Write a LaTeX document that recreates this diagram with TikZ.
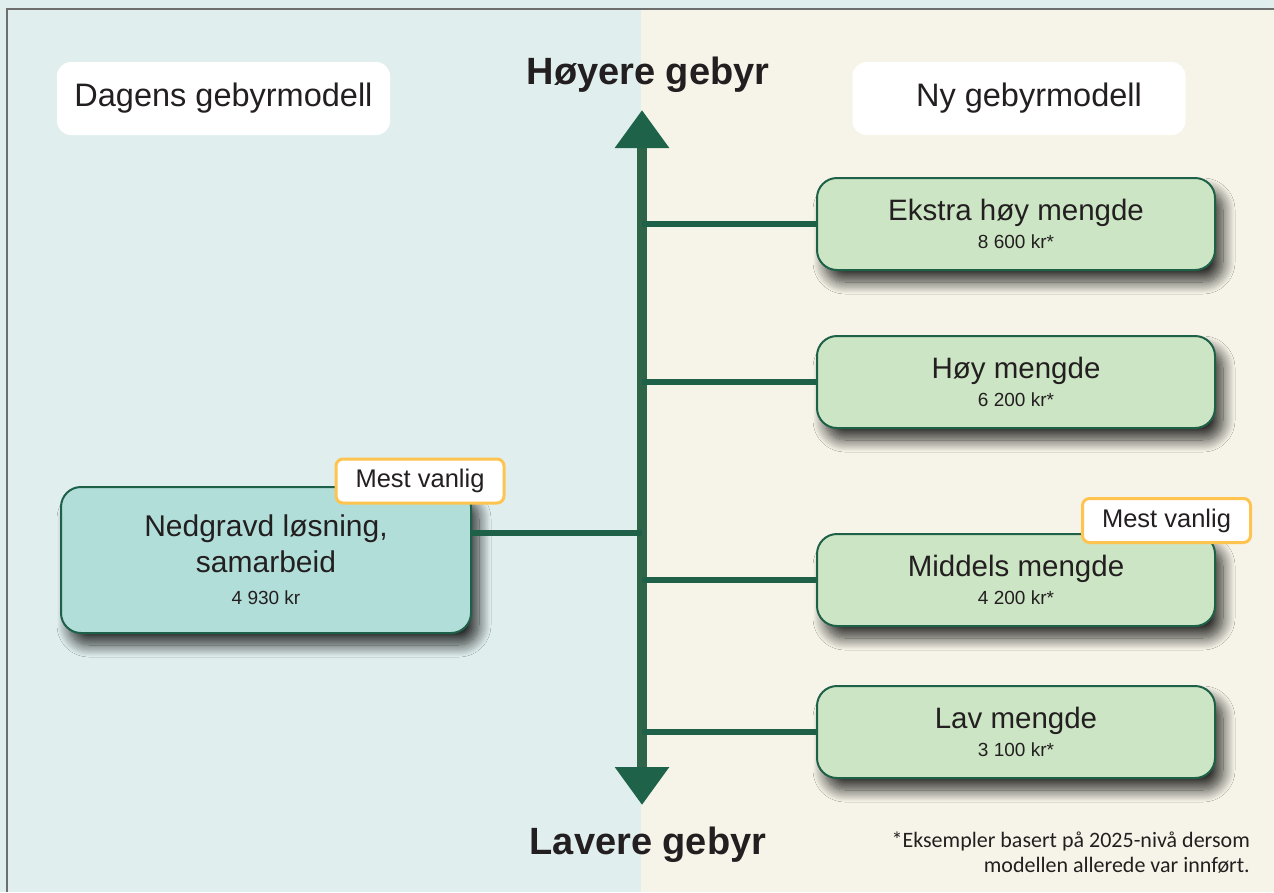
\documentclass[tikz,border=0pt]{standalone}
\usepackage{fontspec}
\setmainfont{Liberation Sans}
\newfontfamily\notefont{Carlito}
\usetikzlibrary{shadows.blur,arrows.meta}
\definecolor{bgteal}{HTML}{E0EFEE}
\definecolor{bgcream}{HTML}{F6F4E8}
\definecolor{greenfill}{HTML}{CCE5C4}
\definecolor{tealfill}{HTML}{B1DED9}
\definecolor{darkgreen}{HTML}{1F6049}
\definecolor{shaftgreen}{HTML}{2E6448}
\definecolor{headgreen}{HTML}{1E6349}
\definecolor{orangeb}{HTML}{FFC44F}
\definecolor{txt}{HTML}{231F20}
\definecolor{framegray}{HTML}{6E6E6E}
\tikzset{
  mybox/.style={draw=darkgreen, line width=2pt, rounded corners=20pt, fill=greenfill,
    minimum width=398pt, minimum height=92pt, align=center, text=txt, inner sep=0pt,
    blur shadow={shadow xshift=8pt, shadow yshift=-12pt, shadow blur radius=12pt,
      shadow opacity=80, shadow blur steps=16}},
  headbox/.style={fill=white, rounded corners=14pt, minimum width=333pt, minimum height=73pt,
    text=txt, font=\fontsize{32.5}{38}\selectfont},
  tagbox/.style={fill=white, draw=orangeb, line width=3pt, rounded corners=7pt,
    minimum width=168pt, minimum height=44pt, text=txt, inner sep=0pt,
    font=\fontsize{25.5}{30}\selectfont},
  conn/.style={draw=darkgreen, line width=6pt},
  bigtitle/.style={font=\fontsize{38}{44}\selectfont\bfseries, text=txt},
}
\newcommand{\boxtext}[2]{{\fontsize{29.5}{34}\selectfont #1}\\[7pt]{\fontsize{19}{22}\selectfont #2}}
\begin{document}
\begin{tikzpicture}[x=1pt,y=-1pt]
\useasboundingbox (0,0) rectangle (1274,892);
% backgrounds
\fill[bgteal] (0,0) rectangle (1274,892);
\fill[bgcream] (641,9) rectangle (1274,892);
\draw[framegray, line width=2pt] (7,892) -- (7,9) -- (1274,9);

% header boxes
\node[headbox] (dagens) at (223.5,98.5) {Dagens gebyrmodell};
\node[headbox] (ny) at (1019,98.5) {\hspace{20pt}Ny gebyrmodell};

% titles
\node[bigtitle] (hoyere) at (648,75) {Høyere gebyr};
\node[bigtitle] (lavere) at (648,845) {Lavere gebyr};

% axis
\coordinate (atop) at (642,110);
\coordinate (abot) at (642,805);
\draw[shaftgreen, line width=10pt,
  {Triangle[width=52pt,length=38pt,color=headgreen]}-{Triangle[width=52pt,length=38pt,color=headgreen]}]
  (atop) -- (abot);

% right boxes
\node[mybox] (ekstra) at (1016,224) {\boxtext{Ekstra høy mengde}{8 600 kr*}};
\node[mybox] (hoy) at (1016,382) {\boxtext{Høy mengde}{6 200 kr*}};
\node[mybox] (middels) at (1016,580) {\boxtext{Middels mengde}{4 200 kr*}};
\node[mybox] (lav) at (1016,732) {\boxtext{Lav mengde}{3 100 kr*}};

% left box
\node[mybox, fill=tealfill, minimum width=410pt, minimum height=146pt,
  font=\fontsize{30}{36}\selectfont] (nedgravd) at (266,560)
  {Nedgravd løsning,\\ samarbeid\\[-4pt] {\fontsize{19}{22}\selectfont 4 930 kr}};

% connectors
\draw[conn] (atop |- ekstra.west) -- (ekstra.west);
\draw[conn] (atop |- hoy.west) -- (hoy.west);
\draw[conn] (atop |- middels.west) -- (middels.west);
\draw[conn] (atop |- lav.west) -- (lav.west);
\coordinate (nedout) at ([yshift=27pt]nedgravd.east);
\draw[conn] (nedout) -- (atop |- nedout);

% tags
\node[tagbox] (tag1) at (420,481) {Mest vanlig};
\node[tagbox] (tag2) at (1166.5,520.5) {Mest vanlig};

% footnote
\node[anchor=east, align=right, text=txt, inner sep=0pt,
  font=\notefont\fontsize{22}{25}\selectfont] (note) at (1250,853)
  {*Eksempler basert på 2025-nivå dersom\\ modellen allerede var innført.};
\end{tikzpicture}
\end{document}
